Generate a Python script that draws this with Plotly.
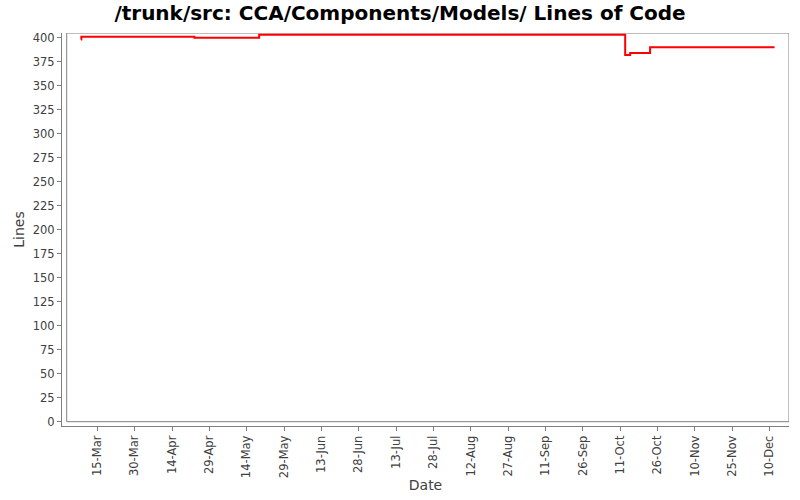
import plotly.graph_objects as go

# commit dates and line counts
dates = ['2007-03-08 10:00', '2007-03-08 14:00', '2007-04-23', '2007-05-19',
         '2007-10-13', '2007-10-15', '2007-10-23', '2007-12-12']
lines = [398, 401, 400, 403, 382, 384, 390, 390]

tick_dates = ['2007-03-15', '2007-03-30', '2007-04-14', '2007-04-29', '2007-05-14',
              '2007-05-29', '2007-06-13', '2007-06-28', '2007-07-13', '2007-07-28',
              '2007-08-12', '2007-08-27', '2007-09-11', '2007-09-26', '2007-10-11',
              '2007-10-26', '2007-11-10', '2007-11-25', '2007-12-10']
tick_text = ['15-Mar', '30-Mar', '14-Apr', '29-Apr', '14-May', '29-May', '13-Jun',
             '28-Jun', '13-Jul', '28-Jul', '12-Aug', '27-Aug', '11-Sep', '26-Sep',
             '11-Oct', '26-Oct', '10-Nov', '25-Nov', '10-Dec']
y_ticks = list(range(0, 401, 25))

x_lo, x_hi = '2007-02-28 19:40', '2007-12-17 19:00'
plot_left = '2007-03-02 17:00'
y_lo, y_hi = -4.5, 404.9

grey = '#808080'
txt = '#404040'
font = 'DejaVu Sans'

fig = go.Figure()
fig.add_scatter(x=dates, y=lines, mode='lines', line_shape='hv',
                line=dict(color='#ff0000', width=2), showlegend=False,
                hoverinfo='x+y')

# plot frame, axes sit a few px outside it
fig.add_shape(type='rect', xref='x', yref='y', x0=plot_left, x1=x_hi, y0=0, y1=y_hi,
              line=dict(color=grey, width=1), layer='below')

fig.update_layout(
    width=800, height=500,
    margin=dict(l=62, r=11, t=33, b=74),
    paper_bgcolor='white', plot_bgcolor='white',
    title=dict(text='<b>/trunk/src: CCA/Components/Models/ Lines of Code</b>',
               x=0.5, xanchor='center', y=0.974, yanchor='middle', yref='container',
               font=dict(family=font, size=20, color='black')),
    xaxis=dict(type='date', range=[x_lo, x_hi], showgrid=False, zeroline=False,
               automargin=False,
               showline=True, linecolor=grey, linewidth=1,
               ticks='outside', ticklen=4, tickcolor=grey,
               tickvals=tick_dates, ticktext=tick_text, tickangle=-90,
               tickfont=dict(family=font, size=11.5, color=txt),
               title=dict(text='Date', standoff=3,
                          font=dict(family=font, size=14, color=txt))),
    yaxis=dict(range=[y_lo, y_hi], showgrid=False, zeroline=False,
               automargin=False,
               showline=True, linecolor=grey, linewidth=1,
               ticks='outside', ticklen=4, tickcolor=grey,
               tickvals=y_ticks, tickfont=dict(family=font, size=11.5, color=txt),
               title=dict(text='Lines', standoff=4,
                          font=dict(family=font, size=14, color=txt))),
)

# the page body has a default margin; drop it so the chart sits at 0,0
fig.write_html('out.html', config={'displayModeBar': False},
               post_script="document.body.style.margin='0';")
